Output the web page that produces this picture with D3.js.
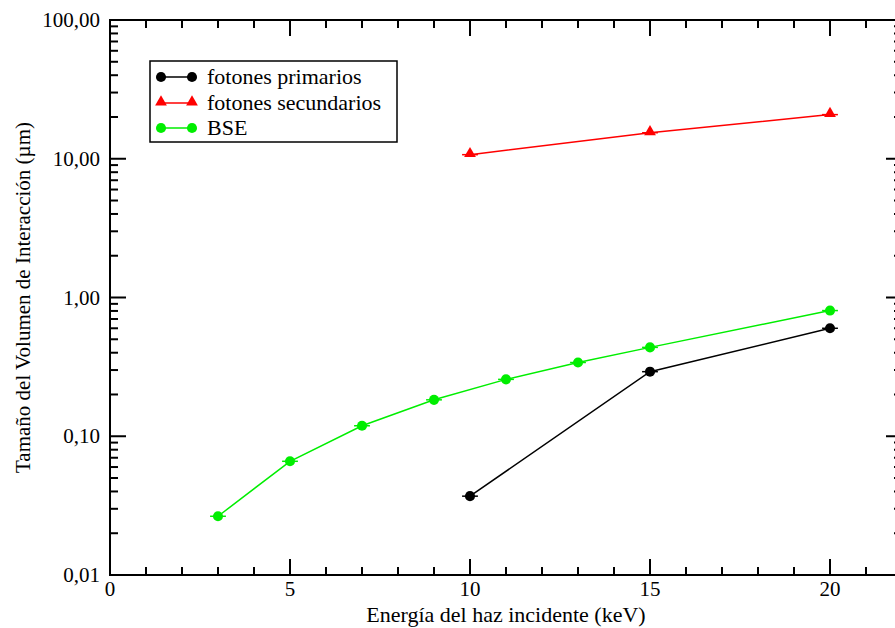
<!DOCTYPE html>
<html><head><meta charset="utf-8">
<script src="https://cdn.jsdelivr.net/npm/d3@7"></script>
<style>body{margin:0;background:#fff}svg{display:block}</style>
</head><body>
<script>
const primX = [10, 15, 20];
const primY = [0.037, 0.292, 0.60];
const secX = [10, 15, 20];
const secY = [10.7, 15.4, 20.8];
const bseX = [3, 5, 7, 9, 11, 13, 15, 20];
const bseY = [0.0265, 0.066, 0.119, 0.183, 0.257, 0.34, 0.437, 0.805];
const xErr = 0.22;
const seriesNames = ["fotones primarios", "fotones secundarios", "BSE"];
const seriesColors = ["#000000", "#ff0000", "#00ee00"];
const seriesSymbols = ["circle", "triangle", "circle"];
const xMajorTicks = [0, 5, 10, 15, 20];
const yMajorTicks = [0.01, 0.1, 1, 10, 100];
const yTickLabels = ["0,01", "0,10", "1,00", "10,00", "100,00"];
const xTitle = "Energía del haz incidente (keV)";
const yTitle = "Tamaño del Volumen de Interacción (µm)";

const FONT = "'Liberation Serif', 'DejaVu Serif', serif";
const W = 895, H = 628;
const m = {l: 110, t: 20, r: 902, b: 575};
const svg = d3.select("body").append("svg").attr("width", W).attr("height", H)
  .attr("font-family", FONT);
const x = d3.scaleLinear().domain([0, 22]).range([m.l, m.r]);
const y = d3.scaleLog().domain([0.01, 100]).range([m.b, m.t]);

const xMinor = d3.range(0, 23, 1).filter(v => v % 5 !== 0);
const yMinor = [];
[0.01, 0.1, 1, 10].forEach(d => { for (let k = 2; k <= 9; k++) yMinor.push(d * k); });

const ax = svg.append("g").attr("stroke", "#000").attr("stroke-width", 2).attr("fill", "none");
ax.append("rect").attr("x", m.l).attr("y", m.t).attr("width", m.r - m.l).attr("height", m.b - m.t);
xMajorTicks.forEach(v => {
  ax.append("line").attr("x1", x(v)).attr("x2", x(v)).attr("y1", m.b).attr("y2", m.b - 16);
  ax.append("line").attr("x1", x(v)).attr("x2", x(v)).attr("y1", m.t).attr("y2", m.t + 16);
});
xMinor.forEach(v => {
  ax.append("line").attr("x1", x(v)).attr("x2", x(v)).attr("y1", m.b).attr("y2", m.b - 8);
  ax.append("line").attr("x1", x(v)).attr("x2", x(v)).attr("y1", m.t).attr("y2", m.t + 8);
});
yMajorTicks.forEach(v => {
  ax.append("line").attr("y1", y(v)).attr("y2", y(v)).attr("x1", m.l).attr("x2", m.l + 16);
  ax.append("line").attr("y1", y(v)).attr("y2", y(v)).attr("x1", m.r).attr("x2", m.r - 16);
});
yMinor.forEach(v => {
  ax.append("line").attr("y1", y(v)).attr("y2", y(v)).attr("x1", m.l).attr("x2", m.l + 8);
  ax.append("line").attr("y1", y(v)).attr("y2", y(v)).attr("x1", m.r).attr("x2", m.r - 8);
});

svg.append("g").selectAll("text").data(xMajorTicks).join("text")
  .attr("x", d => x(d)).attr("y", 596).attr("text-anchor", "middle")
  .attr("font-size", 21).text(d => d);
svg.append("g").selectAll("text").data(yMajorTicks).join("text")
  .attr("x", 100).attr("y", d => y(d) + 7).attr("text-anchor", "end")
  .attr("font-size", 21).text((d, i) => yTickLabels[i]);

svg.append("text").attr("x", (m.l + m.r) / 2).attr("y", 622).attr("text-anchor", "middle")
  .attr("font-size", 22).text(xTitle);
svg.append("text").attr("transform", `translate(30,${(m.t + m.b) / 2}) rotate(-90)`)
  .attr("text-anchor", "middle").attr("font-size", 21).text(yTitle);

const series = [
  {xs: primX, ys: primY},
  {xs: secX, ys: secY},
  {xs: bseX, ys: bseY}
];
const line = d3.line().x(d => x(d[0])).y(d => y(d[1]));
const tri = d3.symbol().type(d3.symbolTriangle).size(60);
const circ = d3.symbol().type(d3.symbolCircle).size(80);
series.forEach((s, i) => {
  const pts = s.xs.map((v, j) => [v, s.ys[j]]);
  const g = svg.append("g");
  g.append("path").datum(pts).attr("d", line).attr("fill", "none")
    .attr("stroke", seriesColors[i]).attr("stroke-width", 1.5);
  g.selectAll("line.err").data(pts).join("line")
    .attr("x1", d => x(d[0] - xErr)).attr("x2", d => x(d[0] + xErr))
    .attr("y1", d => y(d[1])).attr("y2", d => y(d[1]))
    .attr("stroke", seriesColors[i]).attr("stroke-width", 1.5);
  g.selectAll("path.m").data(pts).join("path")
    .attr("transform", d => `translate(${x(d[0])},${y(d[1]) + (seriesSymbols[i] === "triangle" ? -1 : 0)})`)
    .attr("d", seriesSymbols[i] === "triangle" ? tri : circ)
    .attr("fill", seriesColors[i]);
});

const lg = svg.append("g");
lg.append("rect").attr("x", 150).attr("y", 61).attr("width", 247).attr("height", 81)
  .attr("fill", "#fff").attr("stroke", "#000").attr("stroke-width", 1.5);
const rowY = [77, 103, 128];
seriesNames.forEach((n, i) => {
  lg.append("line").attr("x1", 161).attr("x2", 192).attr("y1", rowY[i]).attr("y2", rowY[i])
    .attr("stroke", seriesColors[i]).attr("stroke-width", 1.5);
  [161, 192].forEach(px => {
    lg.append("path").attr("transform", `translate(${px},${rowY[i] + (seriesSymbols[i] === "triangle" ? -1 : 0)})`)
      .attr("d", seriesSymbols[i] === "triangle" ? tri : circ).attr("fill", seriesColors[i]);
  });
  lg.append("text").attr("x", 207).attr("y", rowY[i] + 7).attr("font-size", 22).text(n);
});
</script>
</body></html>
